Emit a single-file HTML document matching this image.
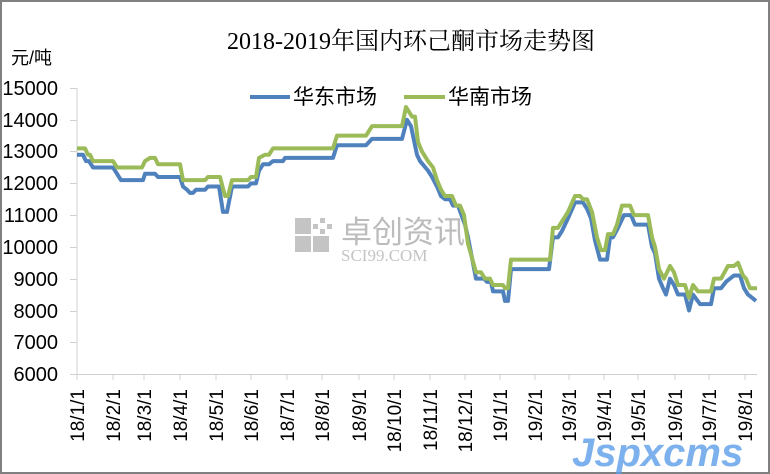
<!DOCTYPE html>
<html><head><meta charset="utf-8"><style>
html,body{margin:0;padding:0;background:#fff}
svg{display:block}
text{font-family:"Liberation Sans","Noto Sans CJK SC",sans-serif}
</style></head><body>
<svg width="770" height="474" viewBox="0 0 770 474" xmlns="http://www.w3.org/2000/svg">
<rect x="1" y="1" width="768" height="472" fill="#fff" stroke="#808080" stroke-width="2"/>
<text x="411" y="49" font-size="24" text-anchor="middle" style="font-family:'Liberation Serif','Noto Serif CJK SC',serif">2018-2019年国内环己酮市场走势图</text>
<text x="11" y="64" font-size="18">元/吨</text>
<g font-size="20" text-anchor="end">
<text x="58" y="95">15000</text><text x="58" y="127">14000</text><text x="58" y="158">13000</text>
<text x="58" y="190">12000</text><text x="58" y="222">11000</text><text x="58" y="254">10000</text>
<text x="58" y="286">9000</text><text x="58" y="318">8000</text><text x="58" y="349">7000</text>
<text x="58" y="381">6000</text>
</g>
<g stroke="#d0d0d0" stroke-width="1">
<line x1="77" y1="88" x2="77" y2="375"/><line x1="70" y1="374.5" x2="757" y2="374.5"/>
<line x1="70" y1="88.5" x2="77" y2="88.5"/><line x1="70" y1="120.5" x2="77" y2="120.5"/><line x1="70" y1="151.5" x2="77" y2="151.5"/><line x1="70" y1="183.5" x2="77" y2="183.5"/><line x1="70" y1="215.5" x2="77" y2="215.5"/><line x1="70" y1="247.5" x2="77" y2="247.5"/><line x1="70" y1="279.5" x2="77" y2="279.5"/><line x1="70" y1="311.5" x2="77" y2="311.5"/><line x1="70" y1="342.5" x2="77" y2="342.5"/>
<path d="M113 374v6M144 374v6M180 374v6M216 374v6M251 374v6M287 374v6M322 374v6M359 374v6M394 374v6M430 374v6M465 374v6M500 374v6M535 374v6M569 374v6M604 374v6M638 374v6M675 374v6M709 374v6M745 374v6M77 374v6"/>
</g>
<g font-size="19">
<text transform="translate(84,389) rotate(-90)" text-anchor="end">18/1/1</text>
<text transform="translate(120,389) rotate(-90)" text-anchor="end">18/2/1</text>
<text transform="translate(151,389) rotate(-90)" text-anchor="end">18/3/1</text>
<text transform="translate(187,389) rotate(-90)" text-anchor="end">18/4/1</text>
<text transform="translate(223,389) rotate(-90)" text-anchor="end">18/5/1</text>
<text transform="translate(258,389) rotate(-90)" text-anchor="end">18/6/1</text>
<text transform="translate(294,389) rotate(-90)" text-anchor="end">18/7/1</text>
<text transform="translate(329,389) rotate(-90)" text-anchor="end">18/8/1</text>
<text transform="translate(366,389) rotate(-90)" text-anchor="end">18/9/1</text>
<text transform="translate(401,389) rotate(-90)" text-anchor="end">18/10/1</text>
<text transform="translate(437,389) rotate(-90)" text-anchor="end">18/11/1</text>
<text transform="translate(472,389) rotate(-90)" text-anchor="end">18/12/1</text>
<text transform="translate(507,389) rotate(-90)" text-anchor="end">19/1/1</text>
<text transform="translate(542,389) rotate(-90)" text-anchor="end">19/2/1</text>
<text transform="translate(576,389) rotate(-90)" text-anchor="end">19/3/1</text>
<text transform="translate(611,389) rotate(-90)" text-anchor="end">19/4/1</text>
<text transform="translate(645,389) rotate(-90)" text-anchor="end">19/5/1</text>
<text transform="translate(682,389) rotate(-90)" text-anchor="end">19/6/1</text>
<text transform="translate(716,389) rotate(-90)" text-anchor="end">19/7/1</text>
<text transform="translate(752,389) rotate(-90)" text-anchor="end">19/8/1</text>
</g>
<!-- watermark -->
<g fill="#c4c4c4">
<rect x="295" y="218" width="16" height="16"/><rect x="313" y="224" width="5" height="5"/><rect x="320" y="218" width="5" height="5"/><rect x="327" y="224" width="5" height="5"/><rect x="320" y="229" width="5" height="5"/>
<rect x="295" y="236" width="16" height="16"/><rect x="313" y="236" width="16" height="16"/>
</g>
<text x="341" y="243" font-size="31" fill="#bcbcbc">卓创资讯</text>
<text x="341" y="261" font-size="17" fill="#c4c4c4" style="font-family:'Liberation Serif',serif">SCI99.COM</text>
<g transform="translate(0,88) scale(1,-0.031778) translate(0,-15000)" fill="none" stroke-width="4" stroke-linejoin="round">
<polyline vector-effect="non-scaling-stroke" stroke="#4f81bd" points="77,12900 83,12900 86,12700 89,12700 93,12500 113,12500 117,12300 121,12100 143,12100 145,12300 155,12300 158,12200 180,12200 183,11900 187,11800 190,11700 193,11700 196,11800 205,11800 208,11900 219,11900 223,11100 227,11100 232,11900 248,11900 251,12000 256,12000 259,12400 263,12600 269,12600 273,12700 283,12700 285,12800 333,12800 337,13200 366,13200 372,13400 402,13400 407,14000 411,13800 417,12900 420,12700 428,12400 432,12200 437,11900 441,11600 445,11500 450,11500 453,11300 458,11300 465,10700 468,10300 476,9000 484,9000 487,8900 491,8900 493,8600 503,8600 505,8300 508,8300 511,9300 549,9300 553,10300 558,10300 562,10500 568,10900 575,11400 583,11400 587,11200 591,10900 595,10200 600,9600 607,9600 610,10300 613,10300 618,10600 624,11000 631,11000 635,10700 648,10700 652,10000 655,9800 659,9000 663,8700 666,8500 670,9000 674,8800 678,8500 685,8500 689,8000 693,8500 700,8200 711,8200 714,8700 721,8700 726,8900 734,9100 740,9100 744,8700 748,8500 752,8400 756,8300"/>
<polyline vector-effect="non-scaling-stroke" stroke="#9bbb59" points="77,13100 85,13100 88,12900 90,12900 93,12700 113,12700 117,12500 142,12500 145,12700 150,12800 155,12800 158,12600 180,12600 183,12100 205,12100 208,12200 220,12200 225,11600 228,11600 232,12100 248,12100 251,12200 256,12200 259,12800 265,12900 269,12900 273,13100 333,13100 337,13500 366,13500 372,13800 402,13800 406,14400 412,14100 415,14100 418,13300 422,13000 428,12700 433,12500 437,12100 441,11800 445,11600 452,11600 456,11300 460,11300 464,11000 468,10100 476,9200 481,9200 485,9000 490,9000 493,8800 503,8800 505,8700 508,8700 511,9600 550,9600 553,10600 558,10600 562,10800 568,11100 575,11600 580,11600 583,11500 587,11500 592,11100 597,10300 601,9900 605,9900 608,10400 613,10400 617,10700 622,11300 630,11300 634,11000 648,11000 652,10300 655,10000 659,9300 664,9000 670,9400 674,9200 678,8800 685,8800 689,8400 693,8800 698,8600 711,8600 714,9000 721,9000 728,9400 734,9400 738,9500 743,9100 746,9000 750,8700 757,8700"/>
</g>
<line x1="250" y1="97" x2="290" y2="97" stroke="#4f81bd" stroke-width="4"/>
<text x="293" y="104" font-size="21">华东市场</text>
<line x1="404" y1="97" x2="445" y2="97" stroke="#9bbb59" stroke-width="4"/>
<text x="448" y="104" font-size="21">华南市场</text>
<text x="572" y="466" font-size="40" font-weight="bold" font-style="italic" fill="#5b9ee8" fill-opacity="0.8">Jspxcms</text>
</svg>
</body></html>
